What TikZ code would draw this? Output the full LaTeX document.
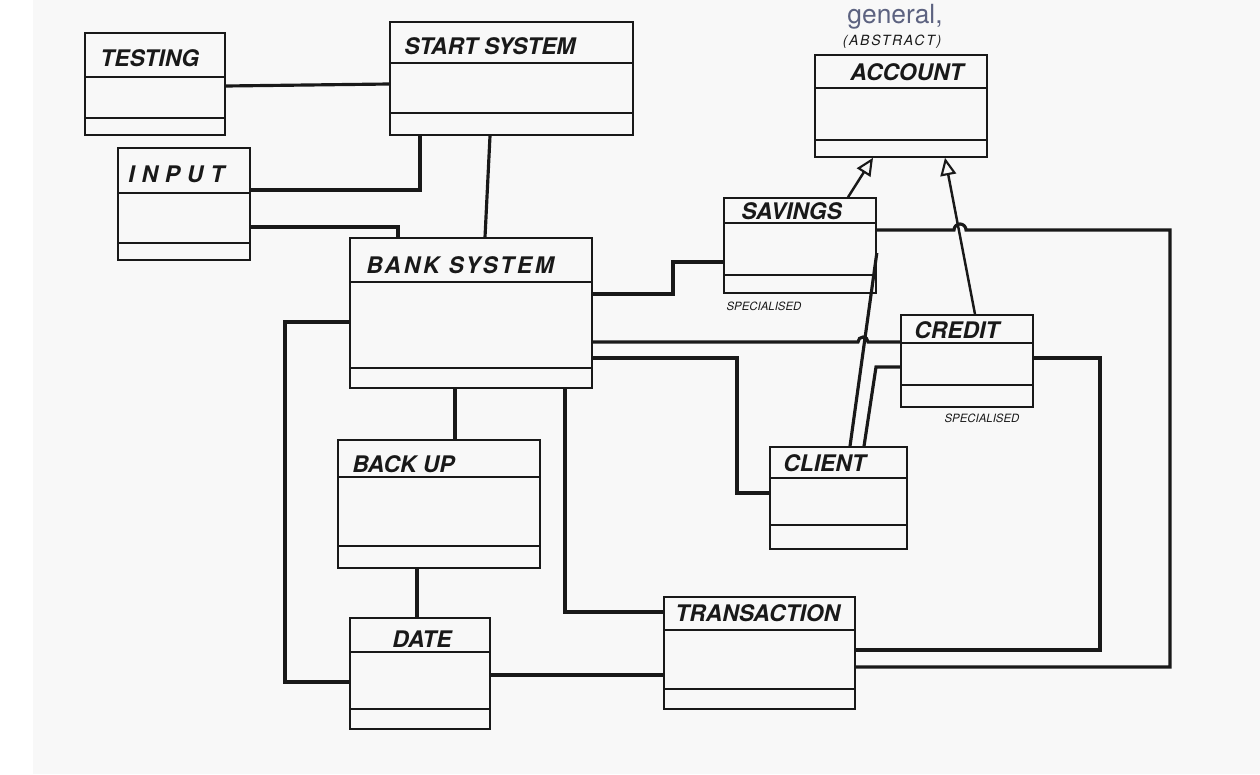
\documentclass[tikz,border=0pt]{standalone}
\usepackage{fontspec}
\setsansfont{TeX Gyre Heros}
\usepackage{xcolor}
\usepackage{tikz}
\usetikzlibrary{arrows.meta,fit}
\definecolor{ink}{RGB}{25,25,25}
\definecolor{pencil}{RGB}{92,98,128}
\definecolor{paper}{RGB}{248,248,248}

\begin{document}
\begin{tikzpicture}[
  x=0.02cm,y=-0.02cm,
  cls/.style={draw=ink,line width=0.9pt,inner sep=0pt},
  ctitle/.style={font=\sffamily\bfseries\itshape\fontsize{13}{15}\selectfont,
                 text=ink,anchor=west,inner sep=0pt},
  div/.style={draw=ink,line width=0.8pt},
  link/.style={draw=ink,line width=1.8pt},
  isa/.style={draw=ink,line width=1.4pt,
              -{Triangle[open,length=10pt,width=9pt,line width=1.2pt]}},
  note/.style={font=\sffamily\itshape\fontsize{6.5}{8}\selectfont,
               text=ink,inner sep=0pt}
]
\useasboundingbox (0,0) rectangle (1260,774);
\fill[paper] (33,0) rectangle (1260,774);

% ---- classes: top row ----
\node[cls,fit={(85,33)(225,135)}] (testing) {};
\node[ctitle] (testingT) at (100,58) {TESTING};
\draw[div] (testing.west |- 0,77) -- (testing.east |- 0,77);
\draw[div,line width=1.6pt] (testing.west |- 0,118) -- (testing.east |- 0,118);

\node[cls,fit={(390,22)(633,135)}] (start) {};
\node[ctitle] (startT) at (404,46) {START SYSTEM};
\draw[div] (start.west |- 0,63) -- (start.east |- 0,63);
\draw[div] (start.west |- 0,113) -- (start.east |- 0,113);

\node[cls,fit={(118,148)(250,260)}] (input) {};
\node[ctitle,font=\sffamily\bfseries\itshape\fontsize{13}{15}\selectfont\addfontfeature{LetterSpace=30}]
  (inputT) at (128,174) {INPUT};
\draw[div] (input.west |- 0,193) -- (input.east |- 0,193);
\draw[div] (input.west |- 0,243) -- (input.east |- 0,243);

\node[cls,fit={(815,55)(987,157)}] (account) {};
\node[ctitle] (accountT) at (850,72) {ACCOUNT};
\draw[div] (account.west |- 0,88) -- (account.east |- 0,88);
\draw[div] (account.west |- 0,140) -- (account.east |- 0,140);

% ---- classes: middle ----
\node[cls,fit={(350,238)(592,388)}] (bank) {};
\node[ctitle,font=\sffamily\bfseries\itshape\fontsize{13}{15}\selectfont\addfontfeature{LetterSpace=12}]
  (bankT) at (366,265) {BANK SYSTEM};
\draw[div] (bank.west |- 0,282) -- (bank.east |- 0,282);
\draw[div] (bank.west |- 0,368) -- (bank.east |- 0,368);

\node[cls,fit={(724,198)(876,293)}] (savings) {};
\node[ctitle] (savingsT) at (741,211) {SAVINGS};
\draw[div] (savings.west |- 0,223) -- (savings.east |- 0,223);
\draw[div] (savings.west |- 0,275) -- (savings.east |- 0,275);

\node[cls,fit={(901,315)(1033,407)}] (credit) {};
\node[ctitle] (creditT) at (914,330) {CREDIT};
\draw[div] (credit.west |- 0,343) -- (credit.east |- 0,343);
\draw[div] (credit.west |- 0,385) -- (credit.east |- 0,385);

\node[cls,fit={(338,440)(540,568)}] (backup) {};
\node[ctitle] (backupT) at (352,464) {BACK UP};
\draw[div] (backup.west |- 0,477) -- (backup.east |- 0,477);
\draw[div] (backup.west |- 0,546) -- (backup.east |- 0,546);

\node[cls,fit={(770,447)(907,549)}] (client) {};
\node[ctitle] (clientT) at (783,463) {CLIENT};
\draw[div] (client.west |- 0,478) -- (client.east |- 0,478);
\draw[div] (client.west |- 0,525) -- (client.east |- 0,525);

% ---- classes: bottom row ----
\node[cls,fit={(350,618)(490,729)}] (date) {};
\node[ctitle,anchor=center] (dateT) at (422,639) {DATE};
\draw[div] (date.west |- 0,652) -- (date.east |- 0,652);
\draw[div] (date.west |- 0,709) -- (date.east |- 0,709);

\node[cls,fit={(664,597)(855,709)}] (transaction) {};
\node[ctitle] (transactionT) at (675,613) {TRANSACTION};
\draw[div] (transaction.west |- 0,630) -- (transaction.east |- 0,630);
\draw[div] (transaction.west |- 0,689) -- (transaction.east |- 0,689);

% ---- notes ----
\node[font=\sffamily\fontsize{15}{17}\selectfont,text=pencil] (general) at (895,17) {general,};
\node[font=\sffamily\itshape\fontsize{8}{9}\selectfont\addfontfeature{LetterSpace=12},text=ink]
  (abstract) at (892,42) {(ABSTRACT)};
\node[note] (savnote) at (764,306) {SPECIALISED};
\node[note] (crednote) at (982,418) {SPECIALISED};

% ---- associations ----
\draw[link] (testing.east |- 0,86) -- (start.west |- 0,84);
\draw[link] (input.east |- 0,190) -| (start.south -| 420,0);
\draw[link] (input.east |- 0,227) -| (bank.north -| 398,0);
\draw[link] (start.south -| 490,0) -- (bank.north -| 485,0);
\draw[link] (bank.south -| 455,0) -- (backup.north -| 455,0);
\draw[link] (backup.south -| 417,0) -- (date.north -| 417,0);
\draw[link] (bank.west |- 0,322) -- (285,322) |- (date.west |- 0,682);
\draw[link] (bank.south -| 565,0) |- (transaction.west |- 0,612);
\draw[link] (date.east |- 0,675) -- (transaction.west |- 0,675);
\draw[link] (bank.east |- 0,294) -| (673,262) -- (savings.west |- 0,262);
\draw[link] (bank.east |- 0,342) -- (858,342)
  arc[start angle=180,end angle=0,radius=0.1cm] -- (credit.west |- 0,342);
\draw[link] (bank.east |- 0,358) -| (737,493) -- (client.west |- 0,493);
\draw[link] (savings.east |- 0,253) -- (client.north -| 850,0);
\draw[link] (credit.west |- 0,367) -- (876,367) -- (client.north -| 864,0);
\draw[link] (transaction.east |- 0,650) -- (1100,650) |- (credit.east |- 0,358);
\draw[link] (transaction.east |- 0,667) -- (1170,667) |- (966,230)
  arc[start angle=0,end angle=180,radius=0.12cm] -- (savings.east |- 0,230);

% ---- generalisation ----
\draw[isa] (savings.north -| 848,0) -- (account.south -| 873,0);
\draw[isa] (credit.north -| 975,0) -- (account.south -| 945,0);

\end{tikzpicture}
\end{document}
